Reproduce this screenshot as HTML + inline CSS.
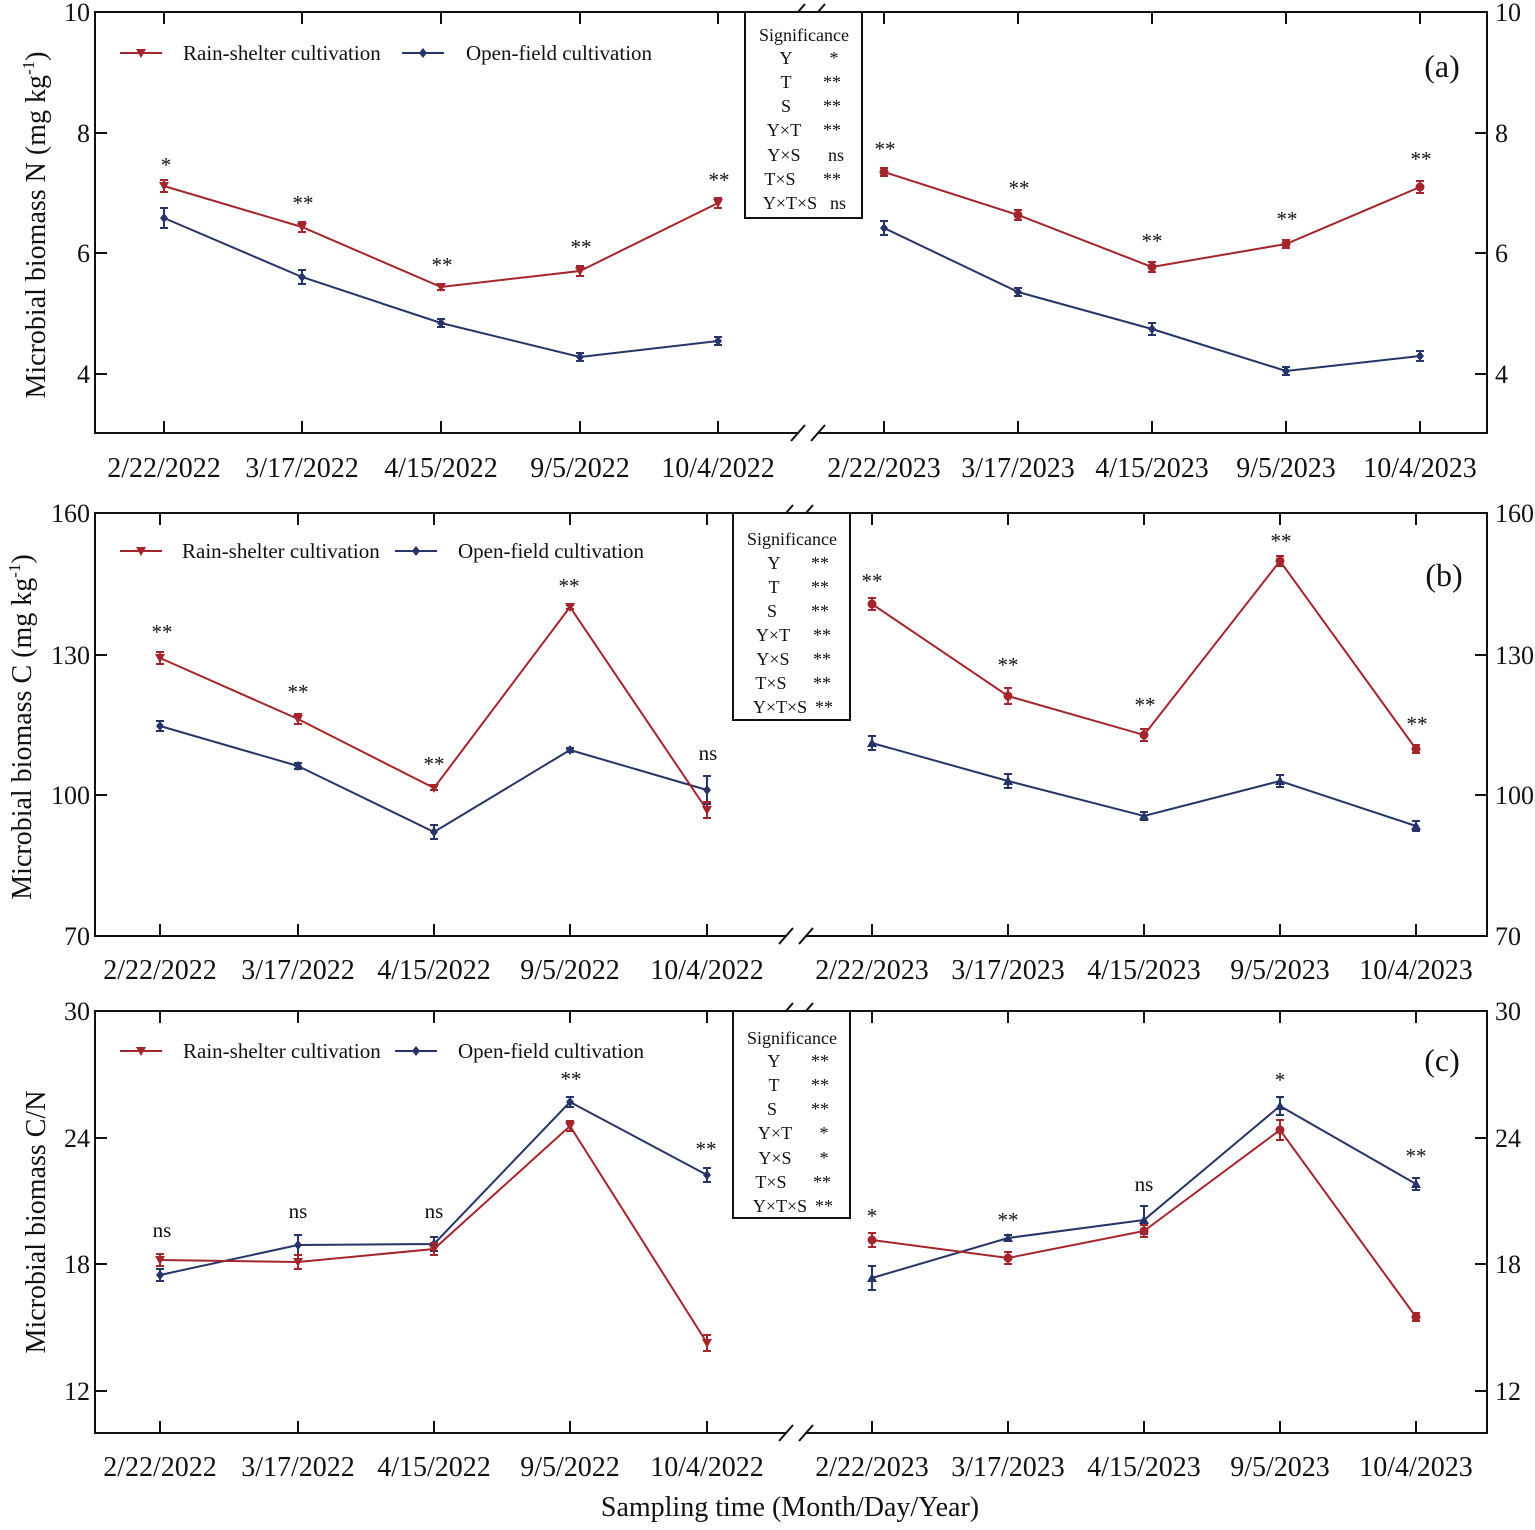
<!DOCTYPE html>
<html><head><meta charset="utf-8"><style>
body{margin:0;background:#fff}
svg text{font-family:"Liberation Serif",serif;fill:#111}
</style></head><body>
<svg id="s" width="1535" height="1525" xmlns="http://www.w3.org/2000/svg">
<g id="g"></g>
<g font-size="28" text-anchor="middle">
<text x="164" y="477">2/22/2022</text><text x="302" y="477">3/17/2022</text><text x="441" y="477">4/15/2022</text><text x="580" y="477">9/5/2022</text><text x="718" y="477">10/4/2022</text>
<text x="884" y="477">2/22/2023</text><text x="1018" y="477">3/17/2023</text><text x="1152" y="477">4/15/2023</text><text x="1286" y="477">9/5/2023</text><text x="1420" y="477">10/4/2023</text>
<text x="160" y="979">2/22/2022</text><text x="298" y="979">3/17/2022</text><text x="434" y="979">4/15/2022</text><text x="570" y="979">9/5/2022</text><text x="707" y="979">10/4/2022</text>
<text x="872" y="979">2/22/2023</text><text x="1008" y="979">3/17/2023</text><text x="1144" y="979">4/15/2023</text><text x="1280" y="979">9/5/2023</text><text x="1416" y="979">10/4/2023</text>
<text x="160" y="1476">2/22/2022</text><text x="298" y="1476">3/17/2022</text><text x="434" y="1476">4/15/2022</text><text x="570" y="1476">9/5/2022</text><text x="707" y="1476">10/4/2022</text>
<text x="872" y="1476">2/22/2023</text><text x="1008" y="1476">3/17/2023</text><text x="1144" y="1476">4/15/2023</text><text x="1280" y="1476">9/5/2023</text><text x="1416" y="1476">10/4/2023</text>
<text x="790" y="1516">Sampling time (Month/Day/Year)</text>
</g>
<g font-size="26" text-anchor="end">
<text x="90" y="21">10</text><text x="90" y="142">8</text><text x="90" y="262">6</text><text x="90" y="383">4</text>
<text x="90" y="522">160</text><text x="90" y="664">130</text><text x="90" y="804">100</text><text x="90" y="945">70</text>
<text x="90" y="1020">30</text><text x="90" y="1147">24</text><text x="90" y="1273">18</text><text x="90" y="1400">12</text>
</g>
<g font-size="26" text-anchor="start">
<text x="1495" y="21">10</text><text x="1495" y="142">8</text><text x="1495" y="262">6</text><text x="1495" y="383">4</text>
<text x="1495" y="522">160</text><text x="1495" y="664">130</text><text x="1495" y="804">100</text><text x="1495" y="945">70</text>
<text x="1495" y="1020">30</text><text x="1495" y="1147">24</text><text x="1495" y="1273">18</text><text x="1495" y="1400">12</text>
</g>
<g font-size="28" text-anchor="middle">
<text transform="translate(45,225) rotate(-90)">Microbial biomass N (mg kg<tspan font-size="17" dy="-11">-1</tspan><tspan dy="11">)</tspan></text>
<text transform="translate(31,727) rotate(-90)">Microbial biomass C (mg kg<tspan font-size="17" dy="-11">-1</tspan><tspan dy="11">)</tspan></text>
<text transform="translate(45,1222) rotate(-90)">Microbial biomass C/N</text>
<text x="1442" y="77" font-size="32">(a)</text>
<text x="1444" y="586" font-size="32">(b)</text>
<text x="1442" y="1071" font-size="32">(c)</text>
</g>
<g font-size="21">
<text x="183" y="60">Rain-shelter cultivation</text><text x="466" y="60">Open-field cultivation</text>
<text x="182" y="558">Rain-shelter cultivation</text><text x="458" y="558">Open-field cultivation</text>
<text x="183" y="1058">Rain-shelter cultivation</text><text x="458" y="1058">Open-field cultivation</text>
</g>
<g font-size="18" text-anchor="middle">
<text x="804" y="41">Significance</text>
<text x="786" y="64">Y</text><text x="834" y="64">*</text>
<text x="786" y="88">T</text><text x="832" y="88">**</text>
<text x="786" y="112">S</text><text x="832" y="112">**</text>
<text x="784" y="136">Y×T</text><text x="832" y="136">**</text>
<text x="784" y="161">Y×S</text><text x="836" y="161">ns</text>
<text x="780" y="185">T×S</text><text x="832" y="185">**</text>
<text x="790" y="209">Y×T×S</text><text x="838" y="209">ns</text>

<text x="792" y="545">Significance</text>
<text x="774" y="569">Y</text><text x="820" y="569">**</text>
<text x="774" y="593">T</text><text x="820" y="593">**</text>
<text x="772" y="617">S</text><text x="820" y="617">**</text>
<text x="773" y="641">Y×T</text><text x="822" y="641">**</text>
<text x="773" y="665">Y×S</text><text x="822" y="665">**</text>
<text x="771" y="689">T×S</text><text x="822" y="689">**</text>
<text x="780" y="713">Y×T×S</text><text x="824" y="713">**</text>

<text x="792" y="1044">Significance</text>
<text x="774" y="1067">Y</text><text x="820" y="1067">**</text>
<text x="774" y="1091">T</text><text x="820" y="1091">**</text>
<text x="772" y="1115">S</text><text x="820" y="1115">**</text>
<text x="775" y="1139">Y×T</text><text x="824" y="1139">*</text>
<text x="775" y="1164">Y×S</text><text x="824" y="1164">*</text>
<text x="771" y="1188">T×S</text><text x="822" y="1188">**</text>
<text x="780" y="1212">Y×T×S</text><text x="824" y="1212">**</text>
</g>
<g font-size="21" text-anchor="middle">
<text x="166" y="172">*</text><text x="303" y="210">**</text><text x="442" y="272">**</text><text x="581" y="254">**</text><text x="719" y="187">**</text>
<text x="885" y="156">**</text><text x="1019" y="195">**</text><text x="1152" y="248">**</text><text x="1287" y="226">**</text><text x="1421" y="166">**</text>
<text x="162" y="639">**</text><text x="298" y="699">**</text><text x="434" y="771">**</text><text x="569" y="593">**</text><text x="708" y="760">ns</text>
<text x="872" y="588">**</text><text x="1008" y="672">**</text><text x="1145" y="712">**</text><text x="1281" y="548">**</text><text x="1417" y="731">**</text>
<text x="162" y="1237">ns</text><text x="298" y="1218">ns</text><text x="434" y="1218">ns</text><text x="571" y="1086">**</text><text x="706" y="1156">**</text>
<text x="872" y="1223">*</text><text x="1008" y="1227">**</text><text x="1144" y="1191">ns</text><text x="1280" y="1087">*</text><text x="1416" y="1163">**</text>
</g>
</svg>
<script>
var g=document.getElementById('g'),NS='http://www.w3.org/2000/svg';
function el(t,a){var e=document.createElementNS(NS,t);for(var k in a)e.setAttribute(k,a[k]);g.appendChild(e);return e;}
function ln(x1,y1,x2,y2,c,w){el('line',{x1:x1,y1:y1,x2:x2,y2:y2,stroke:c||'#111','stroke-width':w||2});}
var R='#a4262c',B='#273468';
function marker(type,x,y,c){
 if(type=='v')el('polygon',{points:(x-5)+','+(y-4)+' '+(x+5)+','+(y-4)+' '+x+','+(y+5),fill:c});
 else if(type=='o')el('circle',{cx:x,cy:y,r:4.5,fill:c});
 else if(type=='d')el('polygon',{points:x+','+(y-5)+' '+(x+4)+','+y+' '+x+','+(y+5)+' '+(x-4)+','+y,fill:c});
 else if(type=='^')el('polygon',{points:(x-5)+','+(y+4)+' '+(x+5)+','+(y+4)+' '+x+','+(y-5),fill:c});
}
function series(xs,ys,c,m1,m2,e){
 var p1=[],p2=[];for(var i=0;i<5;i++){p1.push(xs[i]+','+ys[i]);p2.push(xs[i+5]+','+ys[i+5]);}
 el('polyline',{points:p1.join(' '),fill:'none',stroke:c,'stroke-width':2});
 el('polyline',{points:p2.join(' '),fill:'none',stroke:c,'stroke-width':2});
 for(var i=0;i<10;i++){var h=e[i];ln(xs[i],ys[i]-h,xs[i],ys[i]+h,c,2);ln(xs[i]-4,ys[i]-h,xs[i]+4,ys[i]-h,c,2);ln(xs[i]-4,ys[i]+h,xs[i]+4,ys[i]+h,c,2);marker(i<5?m1:m2,xs[i],ys[i],c);}
}
function panel(L,T,Bt,xs,yt,bx,box,leg){
 var Rr=1487;
 ln(L,T,L,Bt);ln(Rr,T,Rr,Bt);
 ln(L-1,T,bx-6,T);ln(bx+12,T,Rr+1,T);ln(L-1,Bt,bx-6,Bt);ln(bx+12,Bt,Rr+1,Bt);
 [[bx-14,T+8,bx,T-8],[bx+6,T+8,bx+20,T-8],[bx-14,Bt+8,bx,Bt-8],[bx+6,Bt+8,bx+20,Bt-8]].forEach(function(a){ln(a[0],a[1],a[2],a[3],'#111',2);});
 xs.forEach(function(x){ln(x,Bt,x,Bt-12);ln(x,T,x,T+12);});
 yt.forEach(function(y){ln(L,y,L+12,y);ln(Rr,y,Rr-12,y);});
 el('rect',{x:box[0],y:box[1],width:box[2],height:box[3],fill:'#fff',stroke:'#111','stroke-width':2});
 ln(leg[0],leg[1],leg[0]+42,leg[1],R,2);marker('v',leg[0]+21,leg[1],R);
 ln(leg[2],leg[1],leg[2]+42,leg[1],B,2);marker('d',leg[2]+21,leg[1],B);
}
var xa=[164,302,441,580,718,884,1018,1152,1286,1420];
var xb=[160,298,434,570,707,872,1008,1144,1280,1416];
panel(95,12,433,xa,[133,253,374],805,[745,12,117,206],[120,53,402]);
panel(95,513,936,xb,[655,795],793,[733,513,117,207],[120,551,395]);
panel(95,1011,1433,xb,[1138,1264,1391],793,[733,1011,117,207],[120,1051,395]);
series(xa,[218,277,323,357,341,228,292,329,371,356],B,'d','d',[10,7,4,4,4,7,4,6,4,5]);
series(xa,[186,227,287,271,203,172,215,267,244,187],R,'v','o',[6,5,3,5,5,4,5,5,4,6]);
series(xb,[726,766,832,750,790,743,781,816,781,826],B,'d','^',[5,3,7,2,14,7,7,4,6,5]);
series(xb,[658,719,788,607,810,604,696,735,561,749],R,'v','o',[6,5,2,2,8,6,8,6,5,4]);
series(xb,[1275,1245,1244,1102,1175,1278,1238,1220,1106,1184],B,'d','^',[6,10,7,5,7,12,3,14,9,6]);
series(xb,[1260,1262,1249,1126,1343,1240,1258,1231,1130,1317],R,'v','o',[6,7,6,5,8,7,6,6,10,4]);
</script>
</body></html>
